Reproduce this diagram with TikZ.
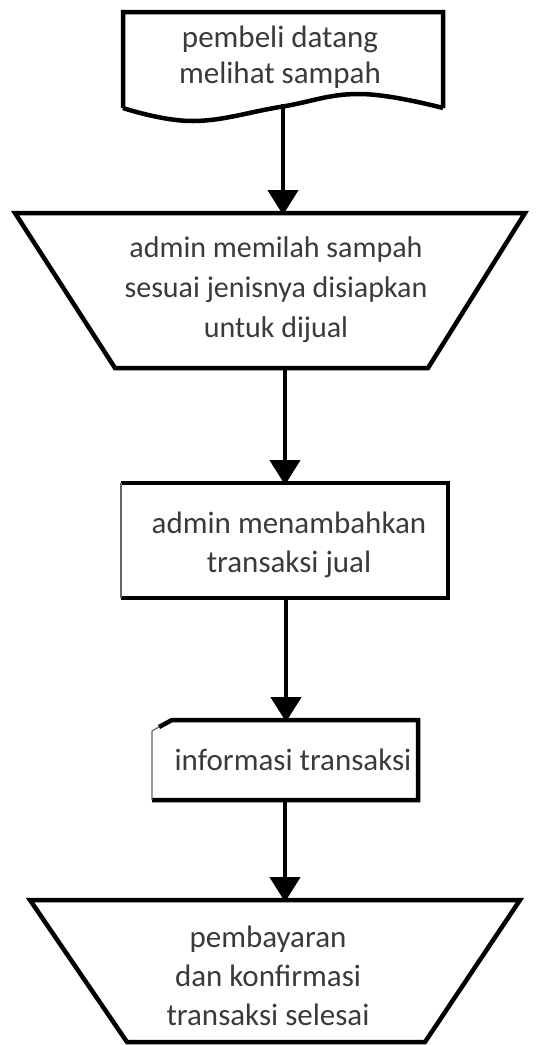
\documentclass[tikz,border=0pt]{standalone}
\usepackage{fontspec}
\setmainfont{Carlito}
\usetikzlibrary{arrows.meta}
\definecolor{txtgray}{HTML}{3A3A3A}
\tikzset{
  thick line/.style={line width=4.5pt, line join=miter},
  thin edge/.style={line width=1.2pt, draw=black!60},
  lbl/.style={font=\fontsize{31}{39}\selectfont, text=txtgray, align=center, anchor=base, inner sep=0pt},
  flow/.style={line width=4.5pt, -{Triangle[width=30pt,length=25pt]}, shorten >=-2pt}
}
\begin{document}
\begin{tikzpicture}[x=1pt,y=-1pt]
\useasboundingbox (0,0) rectangle (545,1045);
% document shape
\draw[thick line] (123,108) -- (123,12) -- (443,12) -- (443,108)
  plot[smooth, tension=0.7] coordinates {(443,108) (360,94) (280,107) (193,121) (123,108)};
\node[lbl, font=\fontsize{31}{36}\selectfont] (doc) at (280,83) {pembeli datang\\melihat sampah};
\coordinate (docB) at (283,104);
% trapezoid 1
\draw[thick line] (15,213) -- (525,213) -- (428,368) -- (115,368) -- cycle;
\node[lbl, font=\fontsize{30}{40}\selectfont] (sort) at (276,337) {admin memilah sampah\\sesuai jenisnya disiapkan\\untuk dijual};
\coordinate (sortT) at (283,213);
\coordinate (sortB) at (285,368);
% rectangle
\draw[thick line] (121,483) -- (448,483) -- (448,598) -- (121,598);
\draw[thin edge] (121,483) -- (121,598);
\node[lbl] (add) at (289,572) {admin menambahkan\\transaksi jual};
\coordinate (addT) at (285,483);
\coordinate (addB) at (286,598);
% informasi box
\draw[thick line] (159,727) -- (172,720) -- (418,720) -- (418,800) -- (152,800);
\draw[thin edge] (152,800) -- (152,731) -- (159,727);
\node[lbl] (info) at (293,770) {informasi transaksi};
\coordinate (infoT) at (286,720);
\coordinate (infoB) at (285,800);
% trapezoid 2
\draw[thick line] (30,900) -- (520,900) -- (425,1042) -- (127,1042) -- cycle;
\node[lbl] (pay) at (268,1025) {pembayaran\\dan konfirmasi\\transaksi selesai};
\coordinate (payT) at (285,900);
% connectors
\draw[flow] (docB) -- (sortT);
\draw[flow] (sortB) -- (addT);
\draw[flow] (addB) -- (infoT);
\draw[flow] (infoB) -- (payT);
\end{tikzpicture}
\end{document}
